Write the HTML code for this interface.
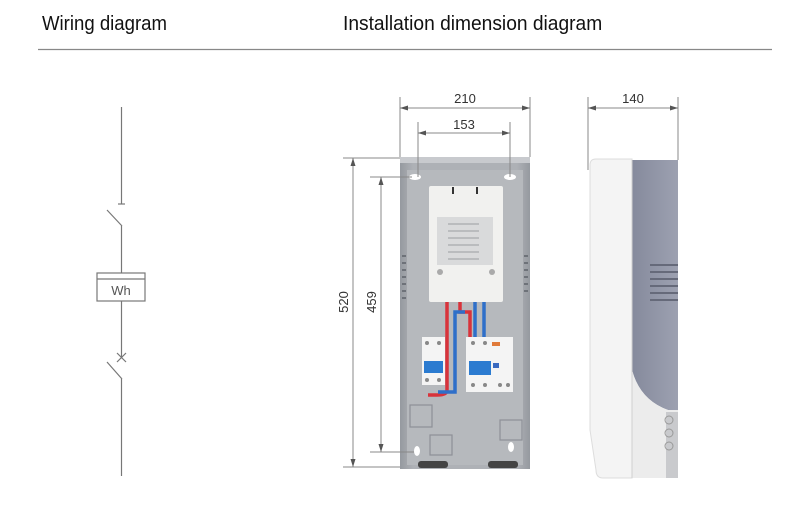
<!DOCTYPE html>
<html><head><meta charset="utf-8"><style>
html,body{margin:0;padding:0;background:#fff;}
svg{display:block;}
text{font-family:"Liberation Sans",sans-serif;}
</style></head><body>
<svg width="800" height="523" viewBox="0 0 800 523" xmlns="http://www.w3.org/2000/svg">
<defs>
<linearGradient id="box" x1="0" x2="1"><stop offset="0" stop-color="#95999f"/><stop offset="0.1" stop-color="#aeb1b6"/><stop offset="0.9" stop-color="#aeb1b6"/><stop offset="1" stop-color="#95999f"/></linearGradient>
<linearGradient id="side" x1="0" x2="1"><stop offset="0" stop-color="#858a9c"/><stop offset="1" stop-color="#9da1b1"/></linearGradient>
</defs>
<text x="42" y="30" font-size="20" fill="#111" transform="translate(42 0) scale(0.93 1) translate(-42 0)">Wiring diagram</text>
<text x="343" y="30" font-size="20" fill="#111" transform="translate(343 0) scale(0.96 1) translate(-343 0)">Installation dimension diagram</text>
<line x1="38" y1="49.5" x2="772" y2="49.5" stroke="#888" stroke-width="1.3"/>

<g stroke="#777" stroke-width="1.2" fill="none">
<line x1="121.5" y1="107" x2="121.5" y2="204"/>
<line x1="118" y1="204" x2="125" y2="204"/>
<line x1="107" y1="210" x2="122" y2="226"/>
<line x1="121.5" y1="226" x2="121.5" y2="273"/>
<rect x="97" y="273" width="48" height="28"/>
<line x1="97" y1="279" x2="145" y2="279"/>
<line x1="121.5" y1="301" x2="121.5" y2="357"/>
<line x1="117" y1="353" x2="126" y2="362"/><line x1="126" y1="353" x2="117" y2="362"/>
<line x1="107" y1="362" x2="122" y2="379"/>
<line x1="121.5" y1="379" x2="121.5" y2="476"/>
</g>
<text x="121" y="295" font-size="13" fill="#555" text-anchor="middle">Wh</text>

<rect x="400" y="157" width="130" height="312" fill="url(#box)"/>
<rect x="407" y="170" width="116" height="295" fill="#b6b9bd"/>
<rect x="400" y="157" width="130" height="6" fill="#c8cace"/>
<ellipse cx="415" cy="177" rx="6" ry="3" fill="#fff"/>
<ellipse cx="510" cy="177" rx="6" ry="3" fill="#fff"/>
<ellipse cx="417" cy="451" rx="3" ry="5" fill="#fff"/>
<ellipse cx="511" cy="447" rx="3" ry="5" fill="#fff"/>
<g fill="#6e7279">
<rect x="402" y="255" width="4" height="2"/><rect x="402" y="262" width="4" height="2"/><rect x="402" y="269" width="4" height="2"/><rect x="402" y="276" width="4" height="2"/><rect x="402" y="283" width="4" height="2"/><rect x="402" y="290" width="4" height="2"/><rect x="402" y="297" width="4" height="2"/>
<rect x="524" y="255" width="4" height="2"/><rect x="524" y="262" width="4" height="2"/><rect x="524" y="269" width="4" height="2"/><rect x="524" y="276" width="4" height="2"/><rect x="524" y="283" width="4" height="2"/><rect x="524" y="290" width="4" height="2"/>
</g>
<rect x="429" y="186" width="74" height="116" fill="#f1f1ef" rx="2"/>
<rect x="437" y="217" width="56" height="48" fill="#d9dadb"/>
<g stroke="#b0b2b5" stroke-width="1.5"><line x1="448" y1="224" x2="479" y2="224"/><line x1="448" y1="231" x2="479" y2="231"/><line x1="448" y1="238" x2="479" y2="238"/><line x1="448" y1="245" x2="479" y2="245"/><line x1="448" y1="252" x2="479" y2="252"/><line x1="448" y1="259" x2="479" y2="259"/></g>
<rect x="452" y="187" width="2" height="7" fill="#333"/><rect x="476" y="187" width="2" height="7" fill="#333"/>
<circle cx="440" cy="272" r="3" fill="#aaa"/><circle cx="492" cy="272" r="3" fill="#aaa"/>
<g fill="none" stroke-width="3.5">
<path d="M447 302 V390 Q447 395 437 395 H428" stroke="#d8333b"/>
<path d="M460 302 V312 H470 V337" stroke="#d8333b"/>
<path d="M475 302 V337" stroke="#2f6fc9"/>
<path d="M484 302 V337" stroke="#2f6fc9"/>
<path d="M465 312 H455 V392 H438" stroke="#2f6fc9"/>
</g>
<rect x="422" y="337" width="23" height="48" fill="#f4f4f4"/>
<rect x="424" y="361" width="19" height="12" fill="#2b7bd0"/>
<rect x="466" y="337" width="47" height="55" fill="#f4f4f4"/>
<rect x="469" y="361" width="22" height="14" fill="#2b7bd0"/>
<rect x="492" y="342" width="8" height="4" fill="#e07a3a"/>
<rect x="493" y="363" width="6" height="5" fill="#3a6ac0"/>
<g fill="#888"><circle cx="427" cy="343" r="2"/><circle cx="439" cy="343" r="2"/><circle cx="473" cy="343" r="2"/><circle cx="485" cy="343" r="2"/><circle cx="427" cy="380" r="2"/><circle cx="439" cy="380" r="2"/><circle cx="473" cy="385" r="2"/><circle cx="485" cy="385" r="2"/><circle cx="500" cy="385" r="2"/><circle cx="508" cy="385" r="2"/></g>
<g fill="none" stroke="#8d9097" stroke-width="1.2"><rect x="410" y="405" width="22" height="22"/><rect x="430" y="435" width="22" height="20"/><rect x="500" y="420" width="22" height="20"/></g>
<rect x="418" y="461" width="30" height="7" fill="#444" rx="3"/><rect x="488" y="461" width="30" height="7" fill="#444" rx="3"/>

<g stroke="#888" stroke-width="1" fill="none">
<line x1="400" y1="97" x2="400" y2="157"/><line x1="530" y1="97" x2="530" y2="157"/>
<line x1="400" y1="108" x2="530" y2="108"/>
<line x1="418" y1="122" x2="418" y2="177"/><line x1="510" y1="122" x2="510" y2="177"/>
<line x1="418" y1="133" x2="510" y2="133"/>
<line x1="343" y1="158" x2="400" y2="158"/><line x1="370" y1="177" x2="412" y2="177"/>
<line x1="370" y1="452" x2="414" y2="452"/><line x1="343" y1="467" x2="400" y2="467"/>
<line x1="353" y1="158" x2="353" y2="467"/>
<line x1="381" y1="177" x2="381" y2="452"/>
<line x1="588" y1="97" x2="588" y2="170"/><line x1="678" y1="97" x2="678" y2="160"/>
<line x1="588" y1="108" x2="678" y2="108"/>
</g>
<g fill="#555">
<path d="M400 108 l8 -2.5 v5z"/><path d="M530 108 l-8 -2.5 v5z"/>
<path d="M418 133 l8 -2.5 v5z"/><path d="M510 133 l-8 -2.5 v5z"/>
<path d="M353 158 l-2.5 8 h5z"/><path d="M353 467 l-2.5 -8 h5z"/>
<path d="M381 177 l-2.5 8 h5z"/><path d="M381 452 l-2.5 -8 h5z"/>
<path d="M588 108 l8 -2.5 v5z"/><path d="M678 108 l-8 -2.5 v5z"/>
</g>
<g font-size="13" fill="#333" text-anchor="middle">
<text x="465" y="103">210</text>
<text x="464" y="129">153</text>
<text x="633" y="103">140</text>
<text transform="translate(348 302) rotate(-90)">520</text>
<text transform="translate(376 302) rotate(-90)">459</text>
</g>

<path d="M596 159 H632 V478 H603 Q596 478 596 470 L590 430 V165 Q590 159 596 159Z" fill="#f4f4f4" stroke="#ddd"/>
<path d="M632 160 H678 V410 H668 Q640 400 632 370Z" fill="url(#side)"/>
<path d="M632 370 Q640 400 668 410 H678 V478 H632Z" fill="#ececec"/>
<rect x="666" y="412" width="12" height="66" fill="#c9cacd"/>
<g fill="none" stroke="#999" stroke-width="1"><circle cx="669" cy="420" r="4"/><circle cx="669" cy="433" r="4"/><circle cx="669" cy="446" r="4"/></g>
<g stroke="#666a7a" stroke-width="2"><line x1="650" y1="265" x2="678" y2="265"/><line x1="650" y1="272" x2="678" y2="272"/><line x1="650" y1="279" x2="678" y2="279"/><line x1="650" y1="286" x2="678" y2="286"/><line x1="650" y1="293" x2="678" y2="293"/><line x1="650" y1="300" x2="678" y2="300"/></g>
<line x1="632" y1="160" x2="632" y2="478" stroke="#d0d0d0"/>
</svg>
</body></html>
